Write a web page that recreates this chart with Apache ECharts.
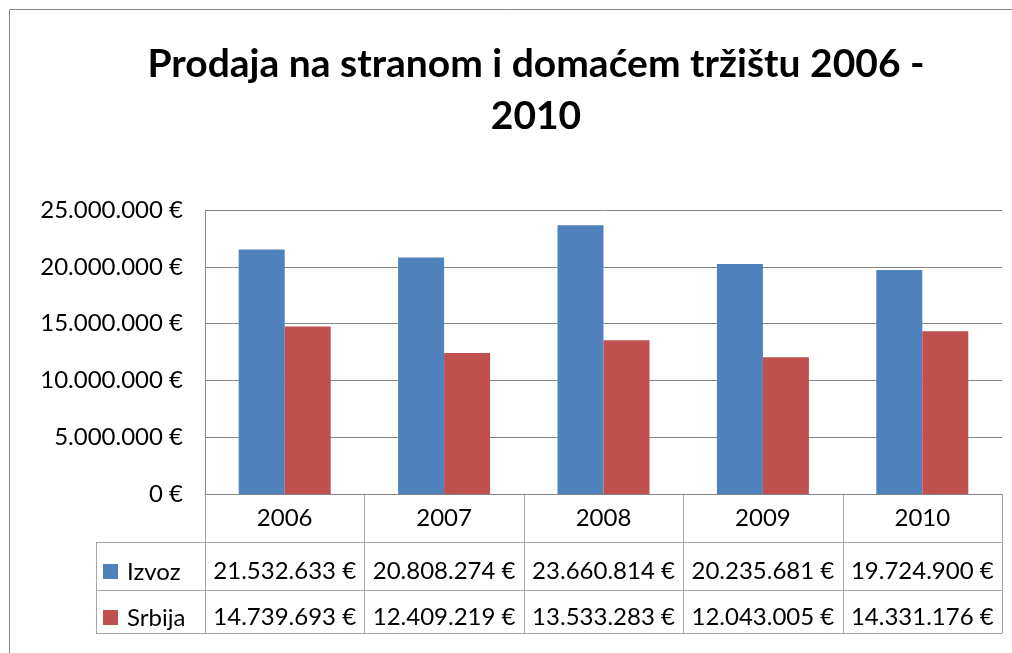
<!DOCTYPE html>
<html>
<head>
<meta charset="utf-8">
<script src="https://cdn.jsdelivr.net/npm/echarts@6/dist/echarts.min.js"></script>
<style>html,body{margin:0;padding:0;background:#fff}#c{width:1012px;height:653px}</style>
</head>
<body>
<div id="c"></div>
<script>
const titleText = 'Prodaja na stranom i domaćem tržištu 2006 -\n2010';
const categories = ['2006', '2007', '2008', '2009', '2010'];
const seriesNames = ['Izvoz', 'Srbija'];
const izvoz = [21532633, 20808274, 23660814, 20235681, 19724900];
const srbija = [14739693, 12409219, 13533283, 12043005, 14331176];
const yMin = 0, yMax = 25000000, yStep = 5000000;
const colors = ['#4F81BD', '#C0504D'];

function fmt(v) {
  return String(v).replace(/\B(?=(\d{3})+(?!\d))/g, '.') + ' €';
}

const FONT = 'Lato';
const chart = echarts.init(document.getElementById('c'), null, {renderer: 'canvas'});
chart.setOption({
  animation: false,
  backgroundColor: '#fff',
  title: {
    text: titleText, left: 531, textAlign: 'center', top: 33,
    textStyle: {fontFamily: 'Lato', fontWeight: 'bold', fontSize: 39, color: '#000', lineHeight: 52}
  },
  grid: {left: 205, right: 10, top: 210, bottom: 159, containLabel: false},
  xAxis: {
    type: 'category', data: categories, boundaryGap: true,
    axisLine: {show: true, lineStyle: {color: '#868686', width: 1}},
    axisTick: {show: false}, axisLabel: {show: false}, splitLine: {show: false}
  },
  yAxis: {
    type: 'value', min: yMin, max: yMax, interval: yStep,
    axisLine: {show: true, lineStyle: {color: '#868686'}},
    axisTick: {show: false},
    splitLine: {show: true, lineStyle: {color: '#868686'}},
    axisLabel: {formatter: fmt, fontFamily: FONT, fontSize: 24, color: '#000', margin: 22}
  },
  series: [
    {name: seriesNames[0], type: 'bar', data: izvoz, barWidth: 46, barGap: '0%', itemStyle: {color: colors[0]}},
    {name: seriesNames[1], type: 'bar', data: srbija, barWidth: 46, barGap: '0%', itemStyle: {color: colors[1]}}
  ]
});

function buildTable() {
  const xs = categories.map((c, i) => chart.convertToPixel({xAxisIndex: 0}, i));
  const band = xs.length > 1 ? xs[1] - xs[0] : 160;
  const y0 = chart.convertToPixel({yAxisIndex: 0}, 0);
  const right = xs[xs.length - 1] + band / 2;
  const tLeft = 96;
  const rowTops = [y0, y0 + 48, y0 + 96];
  const tBottom = y0 + 139;
  const rowCenters = [y0 + 24, y0 + 77, y0 + 123];
  const lc = '#A6A6A6';
  const g = [];
  g.push({type: 'rect', shape: {x: 9.5, y: 9.5, width: 1100, height: 700}, style: {fill: null, stroke: '#868686', lineWidth: 1}, silent: true});
  for (let i = 0; i <= xs.length; i++) {
    const x = Math.round(xs[0] - band / 2 + i * band) + 0.5;
    g.push({type: 'line', shape: {x1: x, y1: y0, x2: x, y2: tBottom}, style: {stroke: lc, lineWidth: 1}});
  }
  g.push({type: 'line', shape: {x1: tLeft + 0.5, y1: rowTops[1], x2: tLeft + 0.5, y2: tBottom}, style: {stroke: lc, lineWidth: 1}});
  [rowTops[1], rowTops[2], tBottom].forEach(y => {
    g.push({type: 'line', shape: {x1: tLeft, y1: y + 0.5, x2: right, y2: y + 0.5}, style: {stroke: lc, lineWidth: 1}});
  });
  categories.forEach((c, i) => {
    g.push({type: 'text', x: xs[i], y: rowCenters[0], style: {text: c, font: '24px ' + FONT, fill: '#000', align: 'center', verticalAlign: 'middle'}});
  });
  [izvoz, srbija].forEach((arr, r) => {
    arr.forEach((v, i) => {
      g.push({type: 'text', x: xs[i], y: rowCenters[r + 1], style: {text: fmt(v), font: '24px ' + FONT, fill: '#000', align: 'center', verticalAlign: 'middle'}});
    });
    g.push({type: 'rect', shape: {x: 103, y: rowCenters[r + 1] - 7, width: 15, height: 15}, style: {fill: colors[r]}});
    g.push({type: 'text', x: 127, y: rowCenters[r + 1] + 1, style: {text: seriesNames[r], font: '24px ' + FONT, fill: '#000', align: 'left', verticalAlign: 'middle'}});
  });
  chart.setOption({graphic: g});
}
buildTable();
</script>
</body>
</html>
